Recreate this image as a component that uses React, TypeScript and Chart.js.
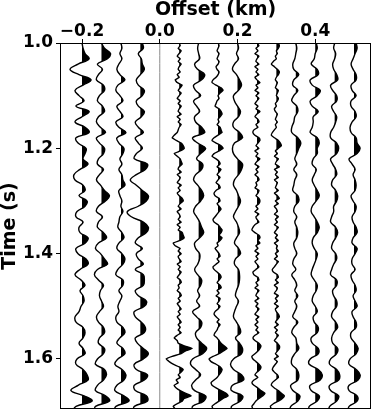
import React, { useEffect, useRef } from "react";
import { Chart, registerables } from "chart.js";

Chart.register(...registerables);

// ---------- axes ----------
const xTicks = [-0.2, 0.0, 0.2, 0.4];
const yTicks = [1.0, 1.2, 1.4, 1.6];
const X_MIN = -0.2567;
const X_MAX = 0.5435;
const Y_MIN = 1.0;
const Y_MAX = 1.695;

// ---------- sampling ----------
const T_START = 1.0;
const DT_SMOOTH = 0.01;
const DT_NOISY = 0.005;
const AMP_UNIT = 0.05 / 19.4; // km of offset per amplitude unit

// ---------- trace amplitudes ----------
const trM20 = [0,1,3,7,-4,-12,-3,9,1,-7,
 -3,2,-6,7,0,-7,3,7,-6,-4,
 4,3,1,6,-2,-8,-7,1,3,-3,
 5,3,-5,-6,1,-3,-2,6,3,-6,
 -4,4,6,-2,-7,-1,3,-2,1,2,
 -1,-3,-7,-6,1,3,1,-3,1,3,
 -5,-6,1,5,6,-4,-11,2,10,-6,
 -10];

const trM15 = [0,3,9,6,-4,1,-3,-5,2,3,
 -2,-4,1,3,-3,-5,-1,4,-5,-2,
 3,2,-3,-4,2,-2,-5,-1,3,8,
 4,-3,-5,1,-3,-4,2,5,-3,-6,
 -1,3,6,-4,-7,-3,2,-1,-2,0,
 2,-2,-5,-3,2,3,-2,-3,3,2,
 -4,-6,3,5,2,-4,-6,4,8,-6,
 -7];

const trM10 = [0,1,-1,1,-2,-4,-1,4,-3,-5,
 -1,2,-4,-1,2,-5,-2,5,-4,-2,
 3,2,-1,1,-2,1,2,4,-2,-1,
 1,0,2,-1,-2,-3,1,3,-2,-4,
 1,4,2,-3,-5,2,2,-2,1,-1,
 -3,-2,-5,-4,2,4,-1,-4,2,4,
 -3,-6,1,5,3,-4,-6,3,8,-5,
 -7];

const trM05 = [2,3,-2,1,2,4,0,-4,-2,4,
 2,-4,-2,4,1,-5,-2,3,-5,-2,
 2,-4,-6,7,5,-4,-10,-4,2,8,
 6,-2,-13,-9,3,8,6,-2,-5,2,
 -4,-2,3,-5,3,4,3,-5,-2,6,
 4,-6,-5,1,5,4,-5,-3,3,8,
 3,-6,-4,7,4,-6,-5,6,7,-6,
 -7];

const trZero = [0, 0];

const trP05 = [0,1,-1,2,0,-2,1,-1,2,0,
 -1,1,-2,0,-4,-2,3,1,-1,2,
 0,-2,1,-1,2,0,-1,2,-2,1,
 -1,2,0,-1,-2,-5,-7,-3,2,4,
 5,1,-5,-2,1,2,3,0,-1,2,
 -2,1,0,-2,2,-1,1,-2,0,3,
 4,1,-1,2,-2,0,1,-1,2,-2,
 1,-1,3,4,5,1,-6,-4,1,-1,
 2,-1,0,2,-2,1,-1,2,0,-2,
 1,2,-1,0,-2,1,2,-1,1,-2,
 0,2,-1,1,-2,0,2,-1,1,-1,
 2,-2,-5,-2,-1,5,13,6,2,-7,
 -13,-10,-6,0,4,2,-1,1,-3,-1,
 -5,-3,1,6,12,5,3,-2,-6,-4,
 -5];

const trP10 = [0,-1,0,1,-4,-1,6,3,-5,-3,
 2,-5,-2,1,-4,-3,3,6,-6,-1,
 7,2,-2,4,3,-3,-5,-1,3,5,
 2,-3,-5,-2,1,3,5,1,-4,-3,
 1,1,-1,-4,-1,3,2,-1,1,-2,
 1,-6,-2,3,2,-3,-2,3,8,4,
 -6,-8,-3,2,-3,-7,-4,7,5,-6,
 -6];

const trP15 = [0,1,0,-1,1,0,-1,1,0,-2,
 -1,1,0,-2,-5,-6,-2,3,5,2,
 0,1,-1,-2,-3,1,3,4,2,0,
 1,-1,2,3,4,0,-4,-6,-2,3,
 5,1,-4,-6,-2,1,2,-1,3,1,
 -1,2,0,-2,1,2,-2,-4,-3,1,
 2,-1,1,3,1,-1,-3,-5,-4,0,
 2,4,3,1,4,2,-1,0,-3,-1,
 1,2,-1,1,-2,-5,-4,-1,2,3,
 1,-1,2,3,-1,1,-2,2,1,-1,
 2,0,-3,-4,-2,1,-1,2,0,-1,
 -3,-4,-1,1,3,6,9,5,1,-5,
 -9,-7,-2,2,4,3,1,-1,-4,-7,
 -6,-2,3,8,10,5,1,-3,-6,-5,
 -4];

const trP20 = [0,1,-1,1,-3,-5,-1,2,4,1,
 -4,-3,0,3,1,-4,-4,2,5,-3,
 -5,-4,0,5,4,1,-3,-4,-1,1,
 3,1,-2,-4,-1,1,2,-1,-3,1,
 3,-2,-3,1,2,2,1,-1,-2,1,
 -1,-3,-4,-1,2,3,-2,2,5,4,
 -4,-7,-4,4,6,-5,-6,5,3,-6,
 -5];

const trP25 = [0,2,-1,1,-2,2,0,-1,2,-2,
 1,-1,2,-2,0,3,-1,1,-2,2,
 -1,2,0,-2,1,-1,3,0,-2,1,
 2,-1,1,-3,-4,-2,2,3,1,-1,
 2,-2,1,-1,3,0,-2,2,-1,1,
 -2,1,2,-1,0,-2,2,1,-1,2,
 3,2,-1,1,-2,2,-1,0,2,-2,
 -4,-5,-2,2,3,1,3,-1,1,-2,
 2,-1,1,-2,0,2,-1,-4,-3,1,
 2,-1,1,-2,2,0,-1,2,-2,1,
 -1,2,0,-2,2,-1,1,-2,1,-1,
 2,-2,-4,-2,2,4,3,1,-2,-5,
 -4,-1,2,4,3,0,-2,1,-3,-5,
 -3,1,4,8,6,2,-1,-3,-5,-4,
 -3];

const trP30 = [2,3,2,0,1,-1,0,-3,-5,-2,
 1,3,2,0,-1,1,0,-1,2,1,
 0,2,1,-1,0,-2,-1,1,0,-1,
 1,-1,0,-2,-4,-5,-2,2,4,5,
 2,-1,1,-2,2,0,-1,3,-2,1,
 -1,2,-2,1,0,-1,2,-2,1,3,
 -1,2,-2,0,1,-2,2,-1,1,-2,
 2,0,-2,1,-1,2,-2,1,0,2,
 -1,1,-2,2,0,-2,-4,-3,1,2,
 -1,2,-2,1,0,-2,2,-1,1,-2,
 2,-1,0,2,3,1,-1,2,-2,1,
 -1,2,0,-2,1,3,3,1,-1,2,
 -2,1,-1,-3,-4,-2,1,2,-1,-4,
 -5,-2,2,5,8,6,2,-3,-6,-5,
 -4];

const trP35 = [0,1,0,-1,-3,-2,3,-2,-3,2,
 -2,-4,1,2,-1,-2,-4,-4,2,5,
 3,1,-1,1,-2,1,-1,-2,-3,2,
 3,-1,-2,1,-1,1,2,1,-2,-1,
 1,-2,-3,0,-4,-1,1,-1,2,-1,
 1,-1,-3,2,-2,-4,0,1,3,-1,
 -4,-4,1,3,2,-5,-3,4,2,-5,
 -6];

const trP40 = [1,2,0,-1,-4,2,3,-5,-3,5,
 2,-5,-3,3,-2,-2,-3,-5,2,4,
 2,2,-2,-3,1,-1,-3,-1,2,4,
 1,-3,-4,-1,2,4,2,-2,-3,-1,
 2,1,-1,-3,-4,-1,2,1,-2,-3,
 0,2,-2,-1,3,2,-4,-3,3,3,
 -5,-6,3,7,5,-5,-4,4,2,-6,
 -6];

const trP45 = [0,-1,1,0,-2,-1,2,3,-4,-2,
 2,2,-3,-1,2,1,-1,-4,-4,2,
 4,2,-4,-2,1,2,-2,-3,1,3,
 2,-1,-1,-3,-4,1,3,1,-2,-3,
 1,2,-1,-3,-4,2,2,-2,-1,2,
 2,-2,-3,1,3,-1,-3,-2,3,2,
 -4,-5,2,5,4,-5,-4,4,2,-5,
 -6];

const trP50 = [2,3,1,-1,-3,-1,2,2,-3,-2,
 2,-3,-3,1,2,-2,-4,-3,2,3,
 6,3,-5,-2,1,-1,1,2,1,-3,
 -1,2,1,-2,-1,2,3,-1,-2,3,
 1,-2,-2,1,-3,-2,1,2,-1,1,
 3,-2,-1,2,2,-3,-3,1,4,2,
 -4,-5,2,6,4,-5,-5,3,3,-5,
 -6];

const traceOffsets = [-0.2, -0.15, -0.1, -0.05, 0.0, 0.05, 0.1, 0.15, 0.2, 0.25, 0.3, 0.35, 0.4, 0.45, 0.5];
const traceValues = [trM20, trM15, trM10, trM05, trZero, trP05, trP10, trP15, trP20, trP25, trP30, trP35, trP40, trP45, trP50];
const traceSteps = [DT_SMOOTH, DT_SMOOTH, DT_SMOOTH, DT_SMOOTH, 0.7, DT_NOISY, DT_SMOOTH, DT_NOISY, DT_SMOOTH, DT_NOISY, DT_NOISY, DT_SMOOTH, DT_SMOOTH, DT_SMOOTH, DT_SMOOTH];

const FONT = "'DejaVu Sans', 'Liberation Sans', sans-serif";

const wiggleFill = {
  id: "wiggleFill",
  afterDatasetsDraw(chart: any) {
    const { ctx, chartArea: a, scales } = chart;
    const xs = scales.x;
    chart.data.datasets.forEach((ds: any, i: number) => {
      if (!ds.wiggleFill) return;
      const pts = chart.getDatasetMeta(i).data;
      if (!pts.length) return;
      const bx = xs.getPixelForValue(ds.baseline);
      const farLeft = bx - 40;
      ctx.save();
      ctx.beginPath();
      ctx.rect(bx, a.top, a.right - bx, a.bottom - a.top);
      ctx.clip();
      ctx.beginPath();
      ctx.moveTo(farLeft, pts[0].y);
      ctx.lineTo(pts[0].x, pts[0].y);
      for (let k = 1; k < pts.length; k++) {
        const p = pts[k - 1];
        const q = pts[k];
        if (ds.tension > 0 && p.cp2x !== undefined && q.cp1x !== undefined) {
          ctx.bezierCurveTo(p.cp2x, p.cp2y, q.cp1x, q.cp1y, q.x, q.y);
        } else {
          ctx.lineTo(q.x, q.y);
        }
      }
      ctx.lineTo(farLeft, pts[pts.length - 1].y);
      ctx.closePath();
      ctx.fillStyle = "#000";
      ctx.fill();
      ctx.restore();
    });
  },
};

const frame = {
  id: "frame",
  afterDraw(chart: any) {
    const { ctx, chartArea: a } = chart;
    ctx.save();
    ctx.strokeStyle = "#000";
    ctx.lineWidth = 1;
    ctx.strokeRect(a.left + 0.5, a.top + 0.5, a.right - a.left - 1, a.bottom - a.top - 1);
    ctx.restore();
  },
};

export default function App() {
  const ref = useRef<HTMLCanvasElement>(null);
  useEffect(() => {
    document.body.style.margin = "0";
    const datasets = traceValues.map((vals, t) => {
      const dead = traceOffsets[t] === 0;
      return {
        data: vals.map((v, k) => ({ x: traceOffsets[t] + v * AMP_UNIT, y: T_START + k * traceSteps[t] })),
        showLine: true,
        borderColor: dead ? "#8a8a8a" : "#000",
        borderWidth: dead ? 1 : 1.4,
        pointRadius: 0,
        pointHoverRadius: 0,
        tension: traceSteps[t] === DT_SMOOTH ? 0.4 : 0.15,
        baseline: traceOffsets[t],
        wiggleFill: !dead,
      };
    });
    const chart = new Chart(ref.current!, {
      type: "scatter",
      data: { datasets } as any,
      options: {
        responsive: false,
        animation: false,
        events: [],
        layout: { padding: { left: 0, top: 0, right: 5, bottom: 3 } },
        plugins: { legend: { display: false }, tooltip: { enabled: false } },
        scales: {
          x: {
            type: "linear",
            position: "top",
            min: X_MIN,
            max: X_MAX,
            afterBuildTicks: (s: any) => {
              s.ticks = xTicks.map((v) => ({ value: v }));
            },
            afterFit: (s: any) => {
              s.height = 43;
              s.paddingLeft = 0;
              s.paddingRight = 0;
            },
            ticks: {
              autoSkip: false,
              maxRotation: 0,
              padding: -3,
              color: "#000",
              font: { family: FONT, size: 17, weight: "bold" },
              callback: (v: any) => Number(v).toFixed(1).replace("-", "\u2212"),
            },
            grid: { drawOnChartArea: false, drawTicks: true, tickLength: 4, color: "#000", lineWidth: 1 },
            border: { display: false },
            title: {
              display: true,
              text: "Offset (km)",
              color: "#000",
              padding: 0,
              font: { family: FONT, size: 19, weight: "bold", lineHeight: 1.1 },
            },
          },
          y: {
            type: "linear",
            reverse: true,
            min: Y_MIN,
            max: Y_MAX,
            afterBuildTicks: (s: any) => {
              s.ticks = yTicks.map((v) => ({ value: v }));
            },
            afterFit: (s: any) => {
              s.width = 60;
              s.paddingTop = 0;
              s.paddingBottom = 0;
            },
            ticks: {
              autoSkip: false,
              padding: 3,
              color: "#000",
              font: { family: FONT, size: 17, weight: "bold" },
              callback: (v: any) => Number(v).toFixed(1),
            },
            grid: { drawOnChartArea: false, drawTicks: true, tickLength: 4, color: "#000", lineWidth: 1 },
            border: { display: false },
            title: {
              display: true,
              text: "Time (s)",
              color: "#000",
              padding: 0,
              font: { family: FONT, size: 19, weight: "bold", lineHeight: 1.1 },
            },
          },
        },
      } as any,
      plugins: [wiggleFill, frame],
    });
    return () => chart.destroy();
  }, []);
  return (
    <div style={{ width: 376, height: 412, position: "relative" }}>
      <canvas ref={ref} width={376} height={412} style={{ display: "block", width: 376, height: 412 }} />
    </div>
  );
}
